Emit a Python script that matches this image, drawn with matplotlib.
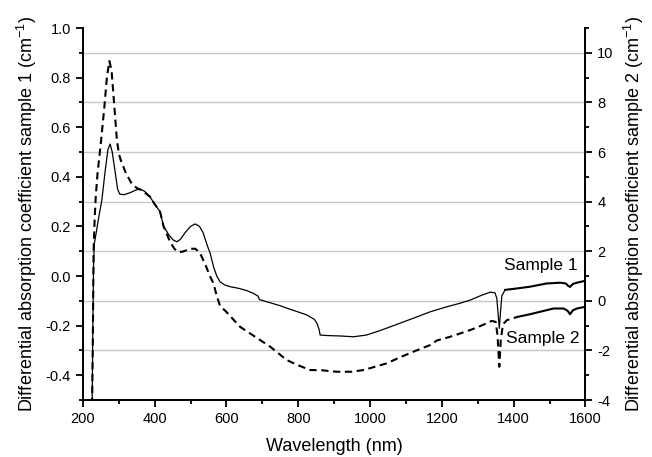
import numpy as np
import matplotlib
matplotlib.use("Agg")
import matplotlib.pyplot as plt
from matplotlib.ticker import MultipleLocator

plt.rcParams['font.family'] = ['Liberation Sans', 'DejaVu Sans']
plt.rcParams['mathtext.fontset'] = 'custom'
plt.rcParams['mathtext.rm'] = 'Liberation Sans'
plt.rcParams['mathtext.it'] = 'Liberation Sans'
plt.rcParams['axes.unicode_minus'] = False

# Sample 1 (left axis, cm-1)
wl1 = [226, 228, 230, 232, 238, 243, 253, 262, 270, 276, 282, 290, 297, 303, 315,
       332, 345, 358, 372, 387, 400, 415, 425, 440, 452, 462, 472, 485, 500, 513,
       525, 535, 545, 555, 564, 573, 582, 595, 610, 635, 657, 675, 688, 692, 720,
       750, 777, 800, 824, 845, 852, 858, 861, 880, 920, 954, 990, 1028, 1084, 1130,
       1168, 1214, 1250, 1279, 1310, 1335, 1348, 1353, 1357, 1360, 1363, 1367, 1376, 1410, 1446,
       1492, 1530, 1545, 1552, 1557, 1565, 1576, 1600]
s1 = [-0.52, -0.2, 0.05, 0.13, 0.18, 0.226, 0.306, 0.42, 0.51, 0.532, 0.5, 0.42, 0.35, 0.33, 0.328,
      0.336, 0.345, 0.351, 0.342, 0.32, 0.29, 0.26, 0.2, 0.165, 0.145, 0.138, 0.148, 0.175, 0.2, 0.21,
      0.2, 0.175, 0.13, 0.09, 0.038, 0.0, -0.023, -0.036, -0.043, -0.05, -0.059, -0.07, -0.081, -0.095, -0.107,
      -0.12, -0.134, -0.145, -0.157, -0.175, -0.191, -0.215, -0.238, -0.24, -0.242, -0.245, -0.238, -0.22, -0.19, -0.165,
      -0.144, -0.124, -0.11, -0.097, -0.078, -0.065, -0.068, -0.09, -0.16, -0.211, -0.15, -0.08, -0.056, -0.05, -0.043,
      -0.03, -0.027, -0.03, -0.04, -0.044, -0.032, -0.027, -0.019]

# Sample 2 (right axis, cm-1)
wl2 = [226, 228, 230, 233, 236, 241, 251, 260, 267, 274, 280, 288, 295, 301, 306,
       320, 336, 350, 365, 387, 400, 415, 425, 443, 455, 465, 478, 500, 513, 520,
       527, 540, 555, 564, 572, 582, 600, 638, 680, 722, 768, 800, 833, 865, 907,
       950, 982, 1047, 1080, 1121, 1168, 1186, 1223, 1279, 1310, 1339, 1350, 1355, 1360, 1364,
       1370, 1381, 1410, 1446, 1511, 1539, 1550, 1557, 1565, 1576, 1600]
s2 = [-4.2, -1.5, 2.0, 3.3, 4.2, 5.13, 6.47, 7.81, 9.0, 9.67, 9.3, 7.81, 6.47, 5.9, 5.66,
      5.15, 4.73, 4.55, 4.45, 4.2, 3.9, 3.6, 3.0, 2.38, 2.1, 1.97, 1.98, 2.1, 2.1, 2.02,
      1.91, 1.5, 0.97, 0.70, 0.25, -0.2, -0.45, -1.05, -1.45, -1.85, -2.39, -2.6, -2.79, -2.8, -2.86,
      -2.86, -2.79, -2.52, -2.3, -2.05, -1.78, -1.6, -1.45, -1.18, -1.0, -0.81, -0.85, -1.4, -2.66, -1.6,
      -0.95, -0.78, -0.65, -0.54, -0.31, -0.31, -0.4, -0.54, -0.38, -0.31, -0.24]

wl1 = np.array(wl1); s1 = np.array(s1)
wl2 = np.array(wl2); s2 = np.array(s2)

fig = plt.figure(figsize=(6.52, 4.57), dpi=100)
ax1 = fig.add_axes([0.127, 0.1247, 0.771, 0.814])
ax2 = ax1.twinx()
ax1.set_zorder(ax2.get_zorder() + 1)
ax1.patch.set_visible(False)

# sample 2 : dashed, the noisy tail looks solid
cut = wl2 <= 1410
ax2.plot(wl2[cut], s2[cut], color='black', lw=1.5, ls=(0, (3.5, 2.2)))
ax2.plot(wl2[wl2 >= 1410], s2[wl2 >= 1410], color='black', lw=1.5)
ax2.grid(True, axis='y', color='#c8c8c8', lw=1.0)
ax2.set_axisbelow(True)

# sample 1 : solid
ax1.plot(wl1[wl1 <= 1376], s1[wl1 <= 1376], color='black', lw=0.9)
ax1.plot(wl1[wl1 >= 1376], s1[wl1 >= 1376], color='black', lw=1.5)

ax1.set_xlim(200, 1600)
ax1.set_ylim(-0.5, 1.0)
ax2.set_ylim(-4, 11)

ax1.xaxis.set_major_locator(MultipleLocator(200))
ax1.xaxis.set_minor_locator(MultipleLocator(100))
ax1.yaxis.set_major_locator(MultipleLocator(0.2))
ax1.yaxis.set_minor_locator(MultipleLocator(0.1))
ax1.yaxis.set_major_formatter(matplotlib.ticker.FormatStrFormatter('%.1f'))
ax2.yaxis.set_major_locator(MultipleLocator(2))
ax2.yaxis.set_minor_locator(MultipleLocator(1))

for ax in (ax1, ax2):
    ax.spines['top'].set_visible(False)
    for sp in ax.spines.values():
        sp.set_linewidth(1.3)
    ax.tick_params(which='major', direction='out', length=5, width=1.3, labelsize=10.5)
    ax.tick_params(which='minor', direction='out', length=3, width=1.3)

ax1.set_xlabel('Wavelength (nm)', fontsize=13, labelpad=9)
ax1.set_ylabel('Differential absorption coefficient sample 1 (cm$^{-1}$)', fontsize=13, labelpad=5)
ax2.set_ylabel('Differential absorption coefficient sample 2 (cm$^{-1}$)', fontsize=13, labelpad=6)

ax1.text(1374, 0.024, 'Sample 1', fontsize=12.5, va='baseline', ha='left')
ax1.text(1378, -0.25, 'Sample 2', fontsize=12.5, va='center', ha='left')

fig.savefig('out.png', dpi=100)
